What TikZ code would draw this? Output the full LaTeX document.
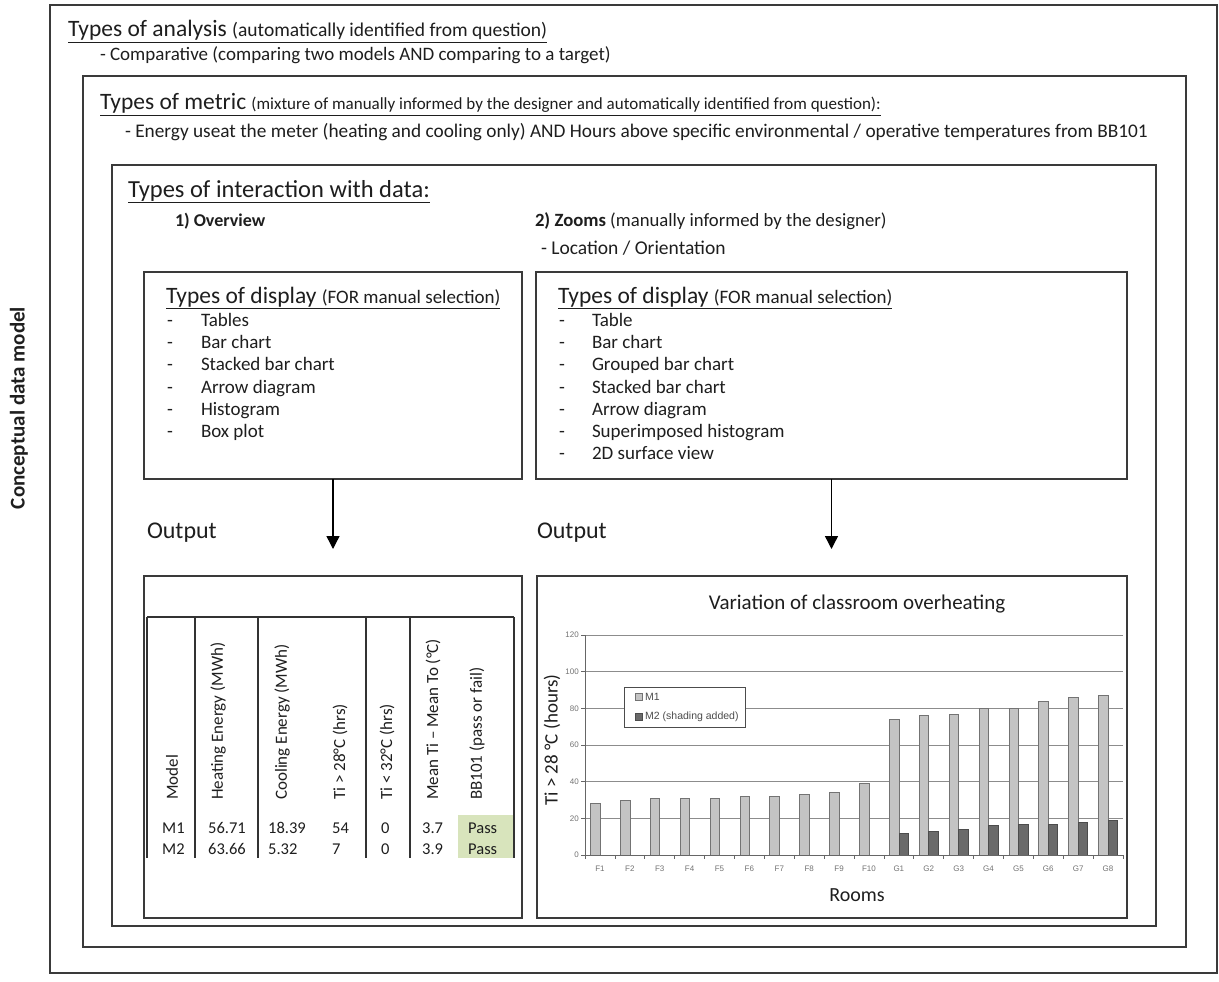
\documentclass[tikz,border=0pt]{standalone}
\usepackage{fontspec}
\setmainfont{Carlito}
\newfontfamily\chartfont{Liberation Sans}
\usetikzlibrary{arrows.meta}
\newcommand\fs[1]{\fontsize{#1}{#1}\selectfont}
\definecolor{boxc}{HTML}{3A3A3A}
\definecolor{txtc}{HTML}{1E1E1E}
\definecolor{passg}{HTML}{D8E4BC}
\definecolor{mone}{HTML}{C4C4C4}
\definecolor{mtwo}{HTML}{6A6A6A}
\definecolor{gridc}{HTML}{8C8C8C}
\begin{document}
\begin{tikzpicture}[x=1pt,y=-1pt,
  frame/.style={draw=boxc, line width=1.5pt, inner sep=0pt, outer sep=0pt, anchor=north west},
  lbl/.style={anchor=base west, inner sep=0pt, outer sep=0pt, text=txtc},
  hdr/.style={anchor=west, rotate=90, inner sep=0pt, text=txtc, font=\fs{17}},
  cell/.style={anchor=base west, inner sep=0pt, text=txtc, font=\fs{16.5}},
  tick/.style={inner sep=0pt, text=black!55, font=\chartfont\fs{8}},
  arr/.style={draw=black, line width=1.4pt, -{Triangle[length=13pt,width=13pt]}},
  tline/.style={draw=black!80, line width=1.4pt},
  bar1/.style={fill=mone, draw=black!55, line width=0.6pt},
  bar2/.style={fill=mtwo, draw=black!70, line width=0.6pt}]
\useasboundingbox (0,0) rectangle (1219,982);
\fill[white] (0,0) rectangle (1219,982);

% frames
\node[frame, minimum width=1167pt, minimum height=968pt] (outer) at (50,5) {};
\node[frame, minimum width=1103pt, minimum height=871pt] (metric) at (83,76) {};
\node[frame, minimum width=1044pt, minimum height=761pt] (inter) at (112,165) {};
\node[frame, minimum width=378pt, minimum height=207pt] (dispL) at (144,272) {};
\node[frame, minimum width=591pt, minimum height=207pt] (dispR) at (536,272) {};
\node[frame, minimum width=378pt, minimum height=342pt] (outL) at (144,576) {};
\node[frame, minimum width=590pt, minimum height=342pt] (outR) at (537,576) {};

% arrows
\coordinate (aL) at (333,549);
\coordinate (aR) at (831.5,549);
\draw[arr] (dispL.south) -- (aL);
\draw[arr] (dispR.south) -- (aR);

% side label
\node[rotate=90, inner sep=0pt, text=txtc, font=\bfseries\fs{21}] (cdm) at (19,408) {Conceptual data model};

% texts
\node[lbl] (ta) at (68,37) {\fs{23.5}\underline{Types of analysis {\fs{19.5}(automatically identified from question)}}};
\node[lbl, font=\fs{19}] (tb) at (100,61) {- Comparative (comparing two models AND comparing to a target)};
\node[lbl] (tc) at (100,110) {\fs{23.5}\underline{Types of metric {\fs{17}(mixture of manually informed by the designer and automatically identified from question):}}};
\node[lbl, font=\fs{19.3}] (td) at (125,137) {- Energy useat the meter (heating and cooling only) AND Hours above specific environmental / operative temperatures from BB101};
\node[lbl] (te) at (128,197) {\fs{24.5}\underline{Types of interaction with data:}};
\node[lbl, font=\bfseries\fs{18}] (tf) at (175,226) {1) Overview};
\node[lbl, font=\fs{18.7}] (tg) at (535,226) {\textbf{2) Zooms} (manually informed by the designer)};
\node[lbl, font=\fs{19.5}] (th) at (541,254) {- Location / Orientation};

% display boxes
\node[lbl] (dl) at (166,303) {\fs{23.5}\underline{Types of display {\fs{19}(FOR manual selection)}}};
\node[lbl] (dr) at (558,303) {\fs{23.5}\underline{Types of display {\fs{19}(FOR manual selection)}}};
\foreach \s [count=\k from 0] in {Tables, Bar chart, Stacked bar chart, Arrow diagram, Histogram, Box plot} {
  \node[lbl, font=\fs{19}] (ldash\k) at (167, 326.5+\k*22.2) {-};
  \node[lbl, font=\fs{19}] (litem\k) at (201, 326.5+\k*22.2) {\s};
}
\foreach \s [count=\k from 0] in {Table, Bar chart, Grouped bar chart, Stacked bar chart, Arrow diagram, Superimposed histogram, 2D surface view} {
  \node[lbl, font=\fs{19}] (rdash\k) at (559, 326.5+\k*22.2) {-};
  \node[lbl, font=\fs{19}] (ritem\k) at (592, 326.5+\k*22.2) {\s};
}

% output labels
\node[lbl, font=\fs{24}] (oL) at (147,538) {Output};
\node[lbl, font=\fs{24}] (oR) at (537,538) {Output};

% table
\fill[passg] (458,815) rectangle (514,858);
\draw[tline] (147,617) -- (514,617);
\foreach \xx in {147,195,258,366,410,514} \draw[tline] (\xx,617) -- (\xx,858);
\node[hdr] (h1) at (172,800) {Model};
\node[hdr] (h2) at (218,800) {Heating Energy (MWh)};
\node[hdr] (h3) at (282,800) {Cooling Energy (MWh)};
\node[hdr] (h4) at (340,800) {Ti > 28°C (hrs)};
\node[hdr] (h5) at (387,800) {Ti < 32°C (hrs)};
\node[hdr] (h6) at (433,800) {Mean Ti – Mean To (°C)};
\node[hdr] (h7) at (477,800) {BB101 (pass or fail)};
\node[cell] (c11) at (162,833) {M1};
\node[cell] (c12) at (208,833) {56.71};
\node[cell] (c13) at (268,833) {18.39};
\node[cell] (c14) at (332,833) {54};
\node[cell] (c15) at (381,833) {0};
\node[cell] (c16) at (422,833) {3.7};
\node[cell] (c17) at (468,833) {Pass};
\node[cell] (c21) at (162,854) {M2};
\node[cell] (c22) at (208,854) {63.66};
\node[cell] (c23) at (268,854) {5.32};
\node[cell] (c24) at (332,854) {7};
\node[cell] (c25) at (381,854) {0};
\node[cell] (c26) at (422,854) {3.9};
\node[cell] (c27) at (468,854) {Pass};

% chart
\def\cw{29.889}
\node[inner sep=0pt, font=\fs{21}, text=txtc] (ctitle) at (857,604) {Variation of classroom overheating};
\node[inner sep=0pt, font=\fs{20}, text=txtc] (rooms) at (857,895) {Rooms};
\node[rotate=90, inner sep=0pt, font=\fs{19}, text=txtc] (ylab) at (552,740) {Ti > 28 °C (hours)};
\foreach \t in {20,40,...,120} \draw[gridc, line width=0.9pt] (585,855-\t*1.833333) -- (1123,855-\t*1.833333);
\foreach \t in {0,20,...,120} {
  \draw[black!60, line width=0.6pt] (581,855-\t*1.833333) -- (585,855-\t*1.833333);
  \node[tick, anchor=east] (yl\t) at (579,855-\t*1.833333) {\t};
}
\foreach \v [count=\i from 0] in {28,30,31,31,31,32,32,33,34,39,74,76,77,80,80,84,86,87} {
  \pgfmathsetmacro\cx{585+(\i+0.5)*\cw}
  \pgfmathsetmacro\bt{855-\v*1.833333}
  \draw[bar1] (\cx-9.5,855) rectangle (\cx,\bt);
}
\foreach \v [count=\i from 10] in {12,13,14,16,16.5,17,18,19} {
  \pgfmathsetmacro\cx{585+(\i+0.5)*\cw}
  \pgfmathsetmacro\bt{855-\v*1.833333}
  \draw[bar2] (\cx,855) rectangle (\cx+9.5,\bt);
}
\draw[black!60, line width=0.8pt] (585,635) -- (585,855) -- (1123,855);
\foreach \k in {0,...,18} \draw[black!60, line width=0.6pt] (585+\k*\cw,855) -- (585+\k*\cw,859);
\foreach \n [count=\i from 0] in {F1,F2,F3,F4,F5,F6,F7,F8,F9,F10,G1,G2,G3,G4,G5,G6,G7,G8} {
  \node[tick] (xl\i) at (585+\i*\cw+0.5*\cw,869) {\n};
}
% legend
\draw[fill=white, draw=black!70, line width=0.8pt] (624,687) rectangle (745,727);
\draw[bar1] (635,693.5) rectangle (642,700.5);
\draw[bar2] (635,713.5) rectangle (642,720.5);
\node[anchor=west, inner sep=0pt, font=\chartfont\fs{10.5}, text=black!70] (lg1) at (645,697) {M1};
\node[anchor=west, inner sep=0pt, font=\chartfont\fs{10.5}, text=black!70] (lg2) at (645,717) {M2 (shading added)};
\end{tikzpicture}
\end{document}
